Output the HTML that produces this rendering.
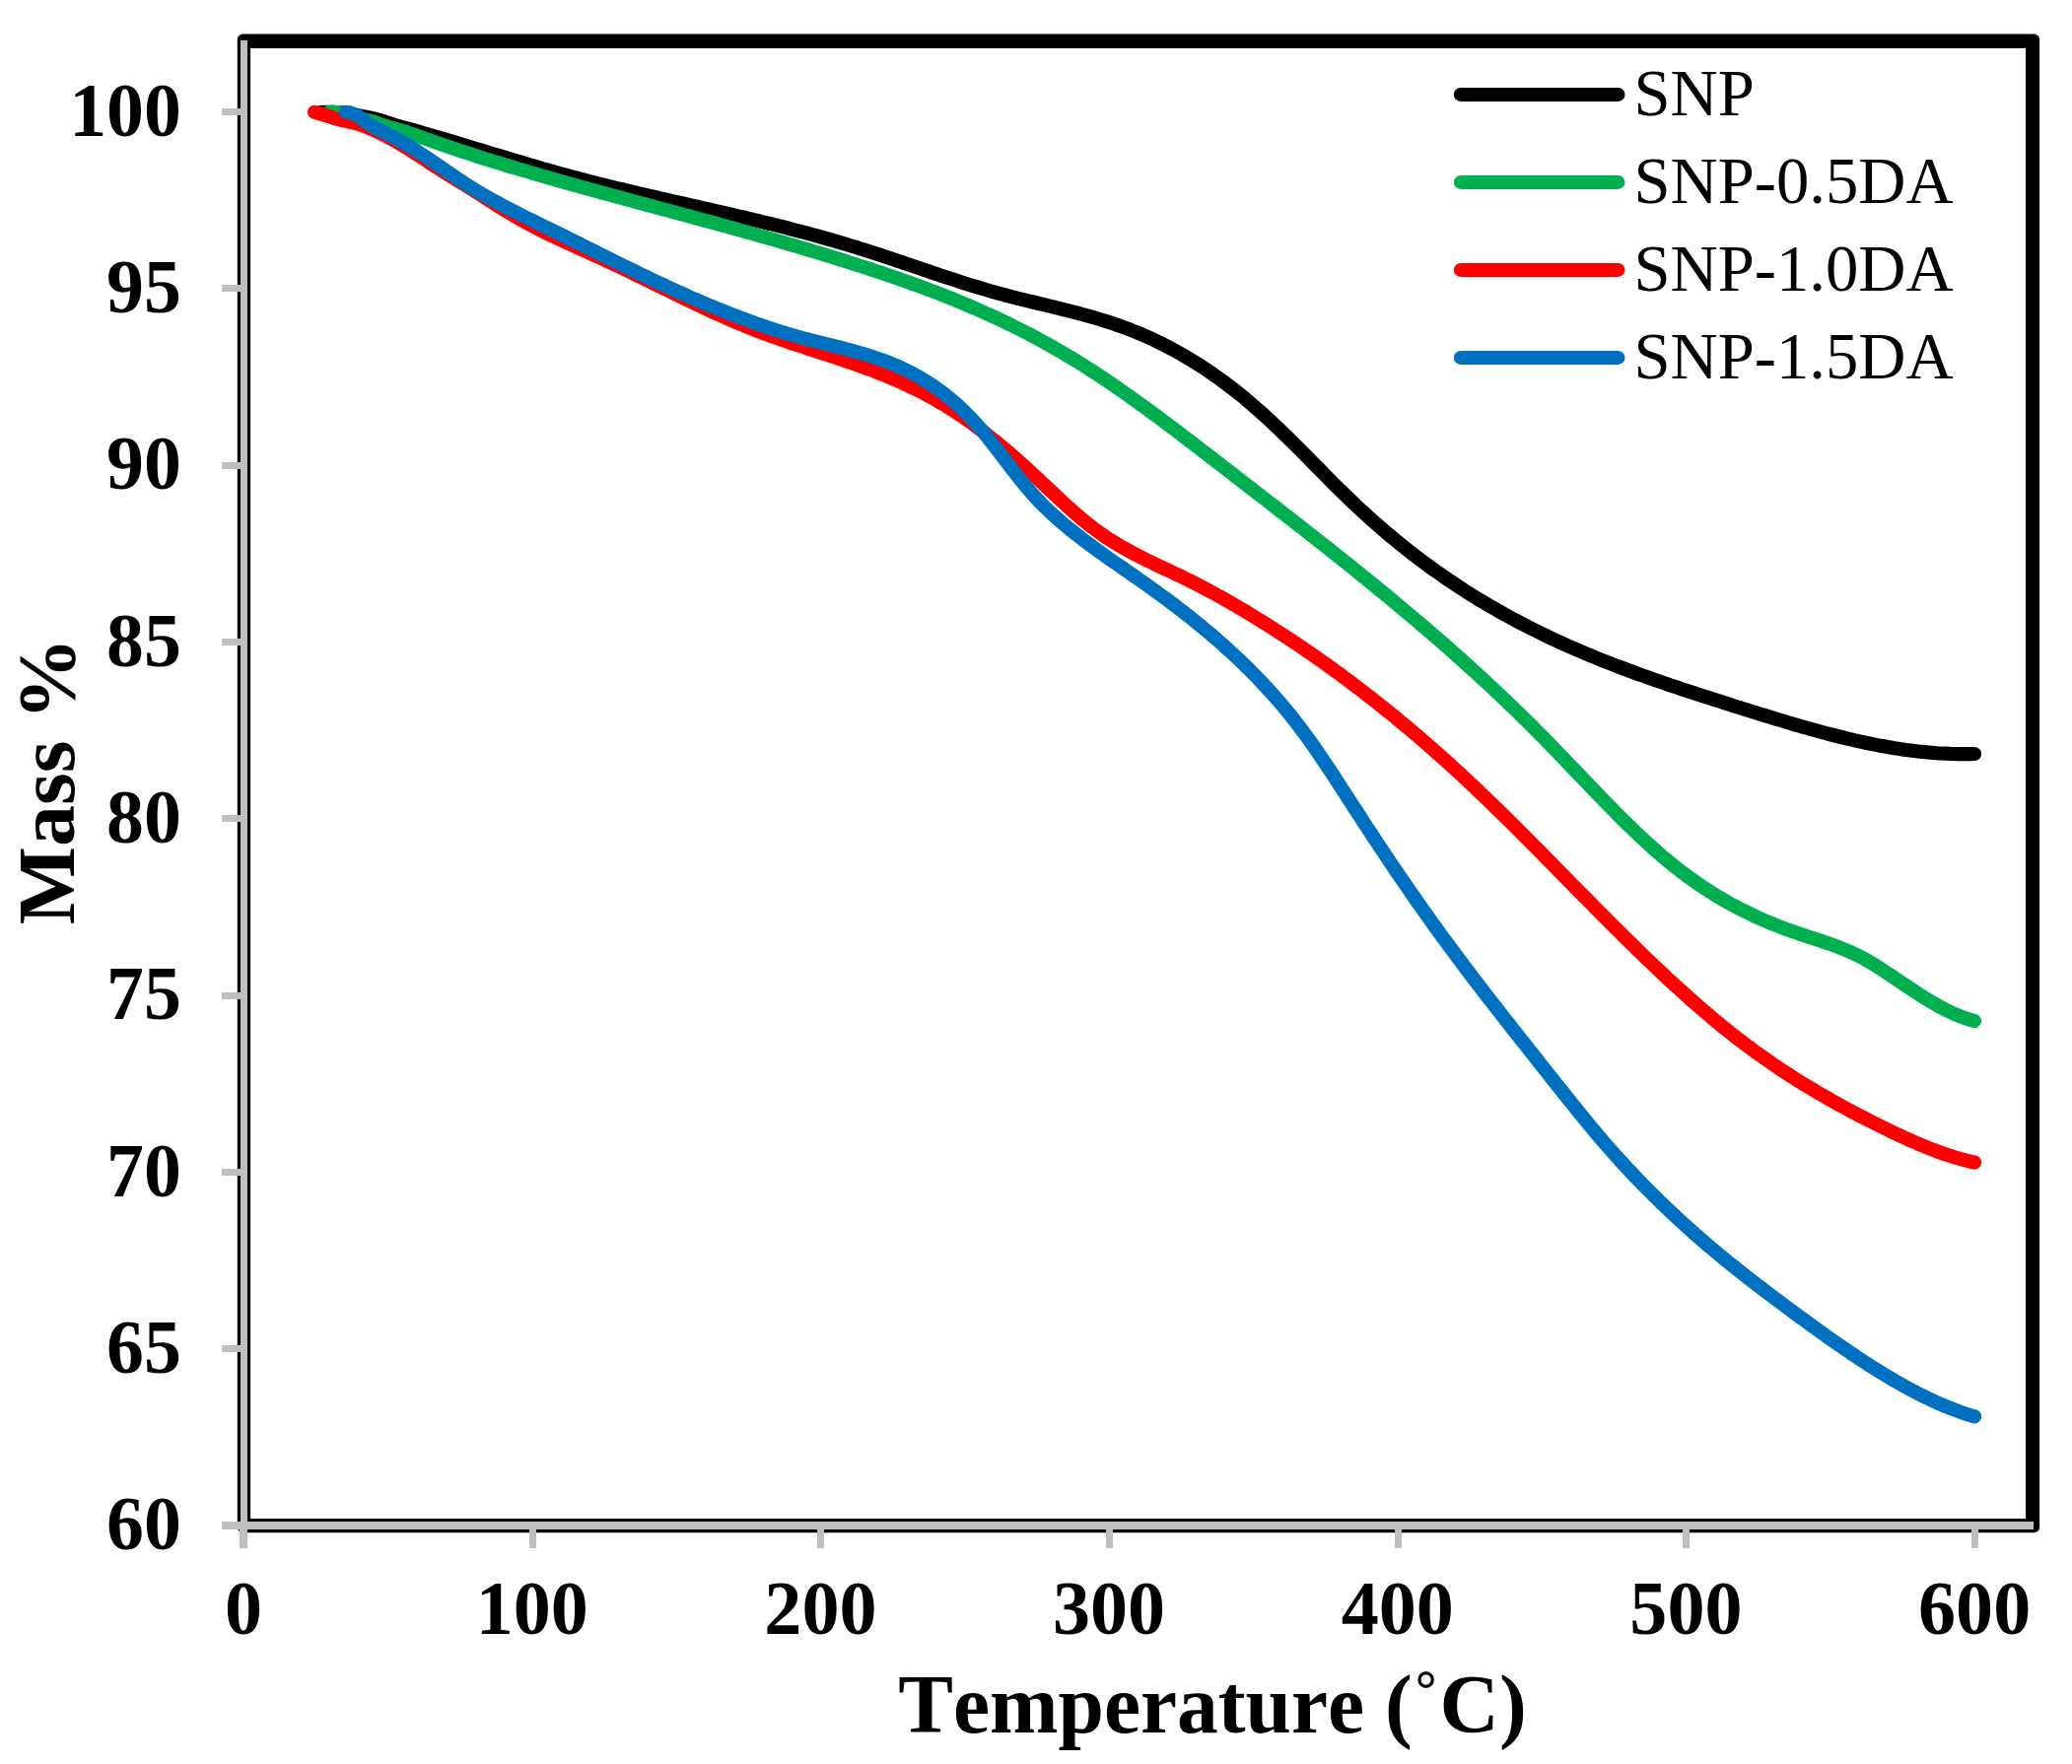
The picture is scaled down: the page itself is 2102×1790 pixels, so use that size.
<!DOCTYPE html>
<html><head><meta charset="utf-8"><title>TGA</title>
<style>
html,body{margin:0;padding:0;background:#fff;width:2102px;height:1790px;overflow:hidden;}
svg{display:block;}
text{font-family:"Liberation Serif","Times New Roman",serif;fill:#000;font-kerning:none;}
.tk{font-size:75px;font-weight:bold;}
.ti{font-size:83.33px;font-weight:bold;}
.lg{font-size:66.67px;}
</style></head><body>
<svg width="2102" height="1790" viewBox="0 0 2102 1790">
<rect x="0" y="0" width="2102" height="1790" fill="#fff"/>

<path fill="#000" fill-rule="evenodd" d="M246.3,34.6 H2063.6 A5.5,5.5 0 0 1 2069.1,40.1 V1549.7 A5.5,5.5 0 0 1 2063.6,1555.2 H246.3 A5.5,5.5 0 0 1 240.8,1549.7 V40.1 A5.5,5.5 0 0 1 246.3,34.6 Z M254.1,48.9 V1541.0 H2055.0 V48.9 Z"/>
<g stroke="#BFBFBF" stroke-width="7.2" fill="none" shape-rendering="crispEdges">
<line x1="247.5" y1="41" x2="247.5" y2="1570.7"/>
<line x1="225.2" y1="1548" x2="2063" y2="1548" stroke-width="7.9"/>
<line x1="225.2" y1="113.5" x2="247.5" y2="113.5" stroke-width="6.8"/>
<line x1="225.2" y1="292.8" x2="247.5" y2="292.8" stroke-width="6.8"/>
<line x1="225.2" y1="472.2" x2="247.5" y2="472.2" stroke-width="6.8"/>
<line x1="225.2" y1="651.5" x2="247.5" y2="651.5" stroke-width="6.8"/>
<line x1="225.2" y1="830.8" x2="247.5" y2="830.8" stroke-width="6.8"/>
<line x1="225.2" y1="1010.1" x2="247.5" y2="1010.1" stroke-width="6.8"/>
<line x1="225.2" y1="1189.5" x2="247.5" y2="1189.5" stroke-width="6.8"/>
<line x1="225.2" y1="1368.8" x2="247.5" y2="1368.8" stroke-width="6.8"/>
<line x1="540.1" y1="1548" x2="540.1" y2="1570.7" stroke-width="7"/>
<line x1="832.8" y1="1548" x2="832.8" y2="1570.7" stroke-width="7"/>
<line x1="1125.4" y1="1548" x2="1125.4" y2="1570.7" stroke-width="7"/>
<line x1="1418.1" y1="1548" x2="1418.1" y2="1570.7" stroke-width="7"/>
<line x1="1710.8" y1="1548" x2="1710.8" y2="1570.7" stroke-width="7"/>
<line x1="2003.5" y1="1548" x2="2003.5" y2="1570.7" stroke-width="7"/>
<rect x="243.2" y="1551" width="7.8" height="19.7" fill="#BFBFBF" stroke="none"/>
</g>
<path d="M326.0,113.8 L330.0,113.8 L334.0,113.8 L338.0,113.9 L342.0,114.1 L346.0,114.3 L350.0,114.6 L354.0,115.2 L358.0,116.1 L362.0,116.9 L366.0,117.7 L370.0,118.5 L374.0,119.3 L378.0,120.2 L382.0,121.2 L386.0,122.2 L390.0,123.4 L394.0,124.7 L398.0,126.1 L402.0,127.4 L406.0,128.6 L410.0,129.6 L414.0,130.7 L418.0,131.7 L422.0,132.8 L426.0,134.0 L430.0,135.2 L434.0,136.4 L438.0,137.5 L442.0,138.7 L446.0,139.8 L450.0,141.0 L454.0,142.2 L458.0,143.4 L462.0,144.6 L466.0,145.8 L470.0,147.0 L474.0,148.2 L478.0,149.5 L482.0,150.7 L486.0,151.9 L490.0,153.1 L494.0,154.3 L498.0,155.5 L502.0,156.7 L506.0,157.9 L510.0,159.1 L514.0,160.3 L518.0,161.5 L522.0,162.7 L526.0,163.9 L530.0,165.1 L534.0,166.3 L538.0,167.5 L542.0,168.6 L546.0,169.8 L550.0,171.0 L554.0,172.1 L558.0,173.2 L562.0,174.4 L566.0,175.5 L570.0,176.6 L574.0,177.7 L578.0,178.8 L582.0,179.9 L586.0,180.9 L590.0,182.0 L594.0,183.0 L598.0,184.1 L602.0,185.1 L606.0,186.1 L610.0,187.1 L614.0,188.1 L618.0,189.1 L622.0,190.1 L626.0,191.1 L630.0,192.0 L634.0,193.0 L638.0,193.9 L642.0,194.9 L646.0,195.8 L650.0,196.8 L654.0,197.7 L658.0,198.6 L662.0,199.5 L666.0,200.5 L670.0,201.4 L674.0,202.3 L678.0,203.2 L682.0,204.1 L686.0,205.0 L690.0,205.9 L694.0,206.8 L698.0,207.7 L702.0,208.6 L706.0,209.5 L710.0,210.4 L714.0,211.4 L718.0,212.3 L722.0,213.2 L726.0,214.1 L730.0,215.0 L734.0,215.9 L738.0,216.8 L742.0,217.7 L746.0,218.7 L750.0,219.6 L754.0,220.5 L758.0,221.5 L762.0,222.4 L766.0,223.4 L770.0,224.3 L774.0,225.3 L778.0,226.3 L782.0,227.2 L786.0,228.2 L790.0,229.2 L794.0,230.2 L798.0,231.2 L802.0,232.3 L806.0,233.3 L810.0,234.3 L814.0,235.4 L818.0,236.4 L822.0,237.5 L826.0,238.6 L830.0,239.7 L834.0,240.8 L838.0,241.9 L842.0,243.1 L846.0,244.2 L850.0,245.4 L854.0,246.6 L858.0,247.7 L862.0,249.0 L866.0,250.2 L870.0,251.4 L874.0,252.7 L878.0,253.9 L882.0,255.2 L886.0,256.5 L890.0,257.8 L894.0,259.1 L898.0,260.5 L902.0,261.8 L906.0,263.1 L910.0,264.5 L914.0,265.8 L918.0,267.2 L922.0,268.5 L926.0,269.9 L930.0,271.3 L934.0,272.6 L938.0,274.0 L942.0,275.3 L946.0,276.7 L950.0,278.0 L954.0,279.4 L958.0,280.7 L962.0,282.0 L966.0,283.3 L970.0,284.6 L974.0,285.9 L978.0,287.2 L982.0,288.5 L986.0,289.7 L990.0,290.9 L994.0,292.1 L998.0,293.3 L1002.0,294.5 L1006.0,295.7 L1010.0,296.8 L1014.0,297.9 L1018.0,299.0 L1022.0,300.0 L1026.0,301.1 L1030.0,302.1 L1034.0,303.1 L1038.0,304.1 L1042.0,305.1 L1046.0,306.0 L1050.0,307.0 L1054.0,308.0 L1058.0,308.9 L1062.0,309.9 L1066.0,310.9 L1070.0,311.8 L1074.0,312.8 L1078.0,313.8 L1082.0,314.8 L1086.0,315.8 L1090.0,316.8 L1094.0,317.9 L1098.0,319.0 L1102.0,320.1 L1106.0,321.2 L1110.0,322.3 L1114.0,323.5 L1118.0,324.7 L1122.0,326.0 L1126.0,327.3 L1130.0,328.6 L1134.0,330.0 L1138.0,331.4 L1142.0,332.9 L1146.0,334.4 L1150.0,336.0 L1154.0,337.6 L1158.0,339.3 L1162.0,341.0 L1166.0,342.8 L1170.0,344.7 L1174.0,346.6 L1178.0,348.5 L1182.0,350.5 L1186.0,352.6 L1190.0,354.7 L1194.0,356.9 L1198.0,359.2 L1202.0,361.5 L1206.0,363.9 L1210.0,366.3 L1214.0,368.8 L1218.0,371.3 L1222.0,373.9 L1226.0,376.6 L1230.0,379.4 L1234.0,382.2 L1238.0,385.0 L1242.0,388.0 L1246.0,391.0 L1250.0,394.0 L1254.0,397.1 L1258.0,400.3 L1262.0,403.6 L1266.0,406.9 L1270.0,410.3 L1274.0,413.8 L1278.0,417.3 L1282.0,420.9 L1286.0,424.6 L1290.0,428.3 L1294.0,432.1 L1298.0,435.9 L1302.0,439.8 L1306.0,443.7 L1310.0,447.6 L1314.0,451.6 L1318.0,455.6 L1322.0,459.6 L1326.0,463.6 L1330.0,467.7 L1334.0,471.7 L1338.0,475.8 L1342.0,479.8 L1346.0,483.9 L1350.0,487.9 L1354.0,491.9 L1358.0,495.8 L1362.0,499.8 L1366.0,503.7 L1370.0,507.5 L1374.0,511.4 L1378.0,515.1 L1382.0,518.9 L1386.0,522.5 L1390.0,526.1 L1394.0,529.7 L1398.0,533.2 L1402.0,536.7 L1406.0,540.1 L1410.0,543.5 L1414.0,546.8 L1418.0,550.1 L1422.0,553.3 L1426.0,556.5 L1430.0,559.7 L1434.0,562.8 L1438.0,565.9 L1442.0,568.9 L1446.0,571.8 L1450.0,574.8 L1454.0,577.7 L1458.0,580.5 L1462.0,583.3 L1466.0,586.1 L1470.0,588.8 L1474.0,591.5 L1478.0,594.2 L1482.0,596.8 L1486.0,599.4 L1490.0,601.9 L1494.0,604.4 L1498.0,606.9 L1502.0,609.3 L1506.0,611.7 L1510.0,614.1 L1514.0,616.4 L1518.0,618.7 L1522.0,621.0 L1526.0,623.2 L1530.0,625.4 L1534.0,627.6 L1538.0,629.8 L1542.0,631.9 L1546.0,633.9 L1550.0,636.0 L1554.0,638.0 L1558.0,640.0 L1562.0,642.0 L1566.0,643.9 L1570.0,645.9 L1574.0,647.8 L1578.0,649.6 L1582.0,651.5 L1586.0,653.3 L1590.0,655.1 L1594.0,656.9 L1598.0,658.6 L1602.0,660.3 L1606.0,662.0 L1610.0,663.7 L1614.0,665.4 L1618.0,667.0 L1622.0,668.7 L1626.0,670.3 L1630.0,671.9 L1634.0,673.4 L1638.0,675.0 L1642.0,676.5 L1646.0,678.0 L1650.0,679.5 L1654.0,681.0 L1658.0,682.5 L1662.0,684.0 L1666.0,685.4 L1670.0,686.8 L1674.0,688.2 L1678.0,689.7 L1682.0,691.0 L1686.0,692.4 L1690.0,693.8 L1694.0,695.2 L1698.0,696.5 L1702.0,697.8 L1706.0,699.2 L1710.0,700.5 L1714.0,701.8 L1718.0,703.1 L1722.0,704.4 L1726.0,705.7 L1730.0,707.0 L1734.0,708.3 L1738.0,709.6 L1742.0,710.8 L1746.0,712.1 L1750.0,713.4 L1754.0,714.6 L1758.0,715.9 L1762.0,717.2 L1766.0,718.4 L1770.0,719.7 L1774.0,720.9 L1778.0,722.2 L1782.0,723.4 L1786.0,724.7 L1790.0,725.9 L1794.0,727.1 L1798.0,728.4 L1802.0,729.6 L1806.0,730.8 L1810.0,732.0 L1814.0,733.2 L1818.0,734.4 L1822.0,735.6 L1826.0,736.7 L1830.0,737.9 L1834.0,739.0 L1838.0,740.1 L1842.0,741.2 L1846.0,742.3 L1850.0,743.4 L1854.0,744.5 L1858.0,745.5 L1862.0,746.5 L1866.0,747.5 L1870.0,748.5 L1874.0,749.5 L1878.0,750.4 L1882.0,751.4 L1886.0,752.3 L1890.0,753.1 L1894.0,754.0 L1898.0,754.8 L1902.0,755.6 L1906.0,756.4 L1910.0,757.1 L1914.0,757.8 L1918.0,758.5 L1922.0,759.2 L1926.0,759.8 L1930.0,760.4 L1934.0,761.0 L1938.0,761.5 L1942.0,762.0 L1946.0,762.5 L1950.0,762.9 L1954.0,763.3 L1958.0,763.7 L1962.0,764.0 L1966.0,764.3 L1970.0,764.5 L1974.0,764.7 L1978.0,764.9 L1982.0,765.0 L1986.0,765.1 L1990.0,765.2 L1994.0,765.2 L1998.0,765.1 L2002.0,765.0 L2003.0,765.0" fill="none" stroke="#000000" stroke-width="14.2" stroke-linecap="round" stroke-linejoin="round"/>
<path d="M334.0,113.8 L338.0,113.8 L342.0,114.1 L346.0,114.8 L350.0,115.8 L354.0,117.0 L358.0,118.1 L362.0,119.3 L366.0,120.4 L370.0,121.4 L374.0,122.4 L378.0,123.4 L382.0,124.6 L386.0,126.1 L390.0,127.6 L394.0,128.8 L398.0,129.9 L402.0,131.0 L406.0,132.1 L410.0,133.3 L414.0,134.6 L418.0,136.0 L422.0,137.3 L426.0,138.8 L430.0,140.2 L434.0,141.6 L438.0,143.1 L442.0,144.5 L446.0,145.9 L450.0,147.3 L454.0,148.6 L458.0,150.0 L462.0,151.3 L466.0,152.7 L470.0,154.0 L474.0,155.3 L478.0,156.6 L482.0,157.9 L486.0,159.2 L490.0,160.4 L494.0,161.7 L498.0,162.9 L502.0,164.2 L506.0,165.4 L510.0,166.6 L514.0,167.9 L518.0,169.1 L522.0,170.3 L526.0,171.5 L530.0,172.6 L534.0,173.8 L538.0,175.0 L542.0,176.2 L546.0,177.3 L550.0,178.5 L554.0,179.6 L558.0,180.8 L562.0,181.9 L566.0,183.1 L570.0,184.2 L574.0,185.3 L578.0,186.4 L582.0,187.6 L586.0,188.7 L590.0,189.8 L594.0,190.9 L598.0,192.0 L602.0,193.1 L606.0,194.2 L610.0,195.3 L614.0,196.4 L618.0,197.5 L622.0,198.6 L626.0,199.7 L630.0,200.7 L634.0,201.8 L638.0,202.9 L642.0,204.0 L646.0,205.1 L650.0,206.2 L654.0,207.2 L658.0,208.3 L662.0,209.4 L666.0,210.5 L670.0,211.6 L674.0,212.6 L678.0,213.7 L682.0,214.8 L686.0,215.9 L690.0,216.9 L694.0,218.0 L698.0,219.1 L702.0,220.2 L706.0,221.3 L710.0,222.4 L714.0,223.5 L718.0,224.5 L722.0,225.6 L726.0,226.7 L730.0,227.8 L734.0,228.9 L738.0,230.0 L742.0,231.1 L746.0,232.2 L750.0,233.4 L754.0,234.5 L758.0,235.6 L762.0,236.7 L766.0,237.8 L770.0,239.0 L774.0,240.1 L778.0,241.2 L782.0,242.4 L786.0,243.5 L790.0,244.7 L794.0,245.8 L798.0,247.0 L802.0,248.2 L806.0,249.3 L810.0,250.5 L814.0,251.7 L818.0,252.9 L822.0,254.1 L826.0,255.3 L830.0,256.5 L834.0,257.7 L838.0,258.9 L842.0,260.1 L846.0,261.4 L850.0,262.6 L854.0,263.9 L858.0,265.1 L862.0,266.4 L866.0,267.7 L870.0,269.0 L874.0,270.2 L878.0,271.5 L882.0,272.8 L886.0,274.2 L890.0,275.5 L894.0,276.8 L898.0,278.2 L902.0,279.5 L906.0,280.9 L910.0,282.3 L914.0,283.7 L918.0,285.1 L922.0,286.5 L926.0,288.0 L930.0,289.4 L934.0,290.9 L938.0,292.4 L942.0,293.9 L946.0,295.4 L950.0,296.9 L954.0,298.5 L958.0,300.0 L962.0,301.6 L966.0,303.2 L970.0,304.9 L974.0,306.5 L978.0,308.2 L982.0,309.9 L986.0,311.6 L990.0,313.3 L994.0,315.1 L998.0,316.9 L1002.0,318.7 L1006.0,320.5 L1010.0,322.3 L1014.0,324.2 L1018.0,326.1 L1022.0,328.0 L1026.0,330.0 L1030.0,332.0 L1034.0,334.0 L1038.0,336.0 L1042.0,338.0 L1046.0,340.1 L1050.0,342.2 L1054.0,344.4 L1058.0,346.6 L1062.0,348.8 L1066.0,351.0 L1070.0,353.3 L1074.0,355.6 L1078.0,357.9 L1082.0,360.3 L1086.0,362.7 L1090.0,365.1 L1094.0,367.6 L1098.0,370.1 L1102.0,372.6 L1106.0,375.2 L1110.0,377.8 L1114.0,380.4 L1118.0,383.0 L1122.0,385.7 L1126.0,388.4 L1130.0,391.1 L1134.0,393.9 L1138.0,396.7 L1142.0,399.5 L1146.0,402.3 L1150.0,405.2 L1154.0,408.0 L1158.0,410.9 L1162.0,413.8 L1166.0,416.7 L1170.0,419.7 L1174.0,422.6 L1178.0,425.6 L1182.0,428.6 L1186.0,431.6 L1190.0,434.6 L1194.0,437.6 L1198.0,440.7 L1202.0,443.7 L1206.0,446.8 L1210.0,449.8 L1214.0,452.9 L1218.0,456.0 L1222.0,459.1 L1226.0,462.2 L1230.0,465.2 L1234.0,468.3 L1238.0,471.4 L1242.0,474.5 L1246.0,477.6 L1250.0,480.7 L1254.0,483.8 L1258.0,486.9 L1262.0,490.0 L1266.0,493.1 L1270.0,496.2 L1274.0,499.3 L1278.0,502.4 L1282.0,505.4 L1286.0,508.5 L1290.0,511.6 L1294.0,514.7 L1298.0,517.9 L1302.0,521.0 L1306.0,524.1 L1310.0,527.2 L1314.0,530.3 L1318.0,533.4 L1322.0,536.5 L1326.0,539.7 L1330.0,542.8 L1334.0,546.0 L1338.0,549.1 L1342.0,552.3 L1346.0,555.4 L1350.0,558.6 L1354.0,561.8 L1358.0,564.9 L1362.0,568.1 L1366.0,571.3 L1370.0,574.5 L1374.0,577.7 L1378.0,581.0 L1382.0,584.2 L1386.0,587.4 L1390.0,590.7 L1394.0,593.9 L1398.0,597.2 L1402.0,600.5 L1406.0,603.8 L1410.0,607.1 L1414.0,610.4 L1418.0,613.7 L1422.0,617.1 L1426.0,620.4 L1430.0,623.8 L1434.0,627.2 L1438.0,630.6 L1442.0,634.0 L1446.0,637.4 L1450.0,640.8 L1454.0,644.3 L1458.0,647.7 L1462.0,651.2 L1466.0,654.7 L1470.0,658.2 L1474.0,661.8 L1478.0,665.3 L1482.0,668.9 L1486.0,672.5 L1490.0,676.1 L1494.0,679.7 L1498.0,683.3 L1502.0,687.0 L1506.0,690.7 L1510.0,694.4 L1514.0,698.1 L1518.0,701.9 L1522.0,705.6 L1526.0,709.4 L1530.0,713.3 L1534.0,717.1 L1538.0,721.0 L1542.0,724.9 L1546.0,728.8 L1550.0,732.8 L1554.0,736.7 L1558.0,740.7 L1562.0,744.8 L1566.0,748.8 L1570.0,752.9 L1574.0,757.0 L1578.0,761.1 L1582.0,765.3 L1586.0,769.4 L1590.0,773.6 L1594.0,777.8 L1598.0,782.0 L1602.0,786.2 L1606.0,790.4 L1610.0,794.5 L1614.0,798.7 L1618.0,802.9 L1622.0,807.0 L1626.0,811.1 L1630.0,815.2 L1634.0,819.3 L1638.0,823.4 L1642.0,827.4 L1646.0,831.4 L1650.0,835.3 L1654.0,839.2 L1658.0,843.1 L1662.0,846.9 L1666.0,850.7 L1670.0,854.4 L1674.0,858.0 L1678.0,861.6 L1682.0,865.2 L1686.0,868.6 L1690.0,872.0 L1694.0,875.3 L1698.0,878.6 L1702.0,881.7 L1706.0,884.8 L1710.0,887.8 L1714.0,890.7 L1718.0,893.6 L1722.0,896.4 L1726.0,899.1 L1730.0,901.8 L1734.0,904.3 L1738.0,906.9 L1742.0,909.3 L1746.0,911.7 L1750.0,914.0 L1754.0,916.3 L1758.0,918.5 L1762.0,920.6 L1766.0,922.7 L1770.0,924.7 L1774.0,926.7 L1778.0,928.6 L1782.0,930.5 L1786.0,932.3 L1790.0,934.0 L1794.0,935.7 L1798.0,937.4 L1802.0,939.0 L1806.0,940.6 L1810.0,942.1 L1814.0,943.6 L1818.0,945.0 L1822.0,946.4 L1826.0,947.8 L1830.0,949.1 L1834.0,950.4 L1838.0,951.7 L1842.0,953.0 L1846.0,954.3 L1850.0,955.7 L1854.0,957.0 L1858.0,958.4 L1862.0,959.9 L1866.0,961.4 L1870.0,963.0 L1874.0,964.7 L1878.0,966.4 L1882.0,968.3 L1886.0,970.2 L1890.0,972.3 L1894.0,974.5 L1898.0,976.8 L1902.0,979.3 L1906.0,981.8 L1910.0,984.4 L1914.0,987.1 L1918.0,989.7 L1922.0,992.4 L1926.0,995.1 L1930.0,997.8 L1934.0,1000.5 L1938.0,1003.2 L1942.0,1005.8 L1946.0,1008.4 L1950.0,1011.0 L1954.0,1013.5 L1958.0,1015.9 L1962.0,1018.2 L1966.0,1020.5 L1970.0,1022.7 L1974.0,1024.8 L1978.0,1026.7 L1982.0,1028.6 L1986.0,1030.3 L1990.0,1031.9 L1994.0,1033.3 L1998.0,1034.6 L2002.0,1035.7 L2003.0,1036.0" fill="none" stroke="#00B050" stroke-width="14.2" stroke-linecap="round" stroke-linejoin="round"/>
<path d="M319.1,113.8 L323.1,115.0 L327.1,116.1 L331.1,117.3 L335.1,118.6 L339.1,119.9 L343.1,121.0 L347.1,122.0 L351.1,122.9 L355.1,123.7 L359.1,124.6 L363.1,125.7 L367.1,127.1 L371.1,128.6 L375.1,130.2 L379.1,131.9 L383.1,133.7 L387.1,135.7 L391.1,137.8 L395.1,139.9 L399.1,142.1 L403.1,144.3 L407.1,146.7 L411.1,149.1 L415.1,151.6 L419.1,154.2 L423.1,156.7 L427.1,159.3 L431.1,161.9 L435.1,164.6 L439.1,167.2 L443.1,169.8 L447.1,172.4 L451.1,175.0 L455.1,177.5 L459.1,179.9 L463.1,182.4 L467.1,184.8 L471.1,187.2 L475.1,189.7 L479.1,192.2 L483.1,194.8 L487.1,197.4 L491.1,199.9 L495.1,202.5 L499.1,205.1 L503.1,207.7 L507.1,210.2 L511.1,212.7 L515.1,215.1 L519.1,217.5 L523.1,219.9 L527.1,222.2 L531.1,224.4 L535.1,226.6 L539.1,228.7 L543.1,230.8 L547.1,232.8 L551.1,234.8 L555.1,236.8 L559.1,238.8 L563.1,240.7 L567.1,242.6 L571.1,244.4 L575.1,246.3 L579.1,248.1 L583.1,249.9 L587.1,251.8 L591.1,253.6 L595.1,255.4 L599.1,257.2 L603.1,259.0 L607.1,260.8 L611.1,262.6 L615.1,264.5 L619.1,266.4 L623.1,268.2 L627.1,270.1 L631.1,272.0 L635.1,274.0 L639.1,275.9 L643.1,277.8 L647.1,279.8 L651.1,281.7 L655.1,283.7 L659.1,285.6 L663.1,287.6 L667.1,289.6 L671.1,291.5 L675.1,293.5 L679.1,295.5 L683.1,297.4 L687.1,299.4 L691.1,301.3 L695.1,303.3 L699.1,305.2 L703.1,307.1 L707.1,309.0 L711.1,310.9 L715.1,312.8 L719.1,314.6 L723.1,316.5 L727.1,318.3 L731.1,320.1 L735.1,321.9 L739.1,323.7 L743.1,325.4 L747.1,327.1 L751.1,328.8 L755.1,330.5 L759.1,332.1 L763.1,333.7 L767.1,335.3 L771.1,336.8 L775.1,338.3 L779.1,339.8 L783.1,341.2 L787.1,342.7 L791.1,344.1 L795.1,345.4 L799.1,346.8 L803.1,348.2 L807.1,349.5 L811.1,350.8 L815.1,352.1 L819.1,353.5 L823.1,354.8 L827.1,356.1 L831.1,357.4 L835.1,358.7 L839.1,360.0 L843.1,361.3 L847.1,362.6 L851.1,364.0 L855.1,365.3 L859.1,366.7 L863.1,368.0 L867.1,369.4 L871.1,370.8 L875.1,372.3 L879.1,373.7 L883.1,375.2 L887.1,376.7 L891.1,378.3 L895.1,379.9 L899.1,381.5 L903.1,383.2 L907.1,384.8 L911.1,386.6 L915.1,388.4 L919.1,390.2 L923.1,392.1 L927.1,394.0 L931.1,396.0 L935.1,398.0 L939.1,400.1 L943.1,402.3 L947.1,404.5 L951.1,406.8 L955.1,409.1 L959.1,411.5 L963.1,414.0 L967.1,416.5 L971.1,419.2 L975.1,421.8 L979.1,424.6 L983.1,427.4 L987.1,430.3 L991.1,433.3 L995.1,436.3 L999.1,439.3 L1003.1,442.5 L1007.1,445.7 L1011.1,448.9 L1015.1,452.2 L1019.1,455.6 L1023.1,459.0 L1027.1,462.4 L1031.1,465.9 L1035.1,469.5 L1039.1,473.1 L1043.1,476.7 L1047.1,480.4 L1051.1,484.2 L1055.1,487.9 L1059.1,491.7 L1063.1,495.5 L1067.1,499.2 L1071.1,503.0 L1075.1,506.7 L1079.1,510.4 L1083.1,514.1 L1087.1,517.6 L1091.1,521.2 L1095.1,524.6 L1099.1,528.0 L1103.1,531.2 L1107.1,534.4 L1111.1,537.4 L1115.1,540.3 L1119.1,543.1 L1123.1,545.8 L1127.1,548.4 L1131.1,550.8 L1135.1,553.3 L1139.1,555.6 L1143.1,557.8 L1147.1,560.0 L1151.1,562.2 L1155.1,564.2 L1159.1,566.3 L1163.1,568.3 L1167.1,570.2 L1171.1,572.2 L1175.1,574.1 L1179.1,576.0 L1183.1,577.8 L1187.1,579.7 L1191.1,581.6 L1195.1,583.5 L1199.1,585.4 L1203.1,587.4 L1207.1,589.3 L1211.1,591.4 L1215.1,593.4 L1219.1,595.5 L1223.1,597.6 L1227.1,599.7 L1231.1,601.9 L1235.1,604.1 L1239.1,606.3 L1243.1,608.5 L1247.1,610.8 L1251.1,613.1 L1255.1,615.5 L1259.1,617.8 L1263.1,620.2 L1267.1,622.6 L1271.1,625.0 L1275.1,627.5 L1279.1,630.0 L1283.1,632.5 L1287.1,635.0 L1291.1,637.5 L1295.1,640.1 L1299.1,642.7 L1303.1,645.3 L1307.1,647.9 L1311.1,650.5 L1315.1,653.2 L1319.1,655.9 L1323.1,658.6 L1327.1,661.4 L1331.1,664.1 L1335.1,666.9 L1339.1,669.7 L1343.1,672.6 L1347.1,675.4 L1351.1,678.3 L1355.1,681.2 L1359.1,684.1 L1363.1,687.1 L1367.1,690.0 L1371.1,693.0 L1375.1,696.1 L1379.1,699.1 L1383.1,702.2 L1387.1,705.3 L1391.1,708.4 L1395.1,711.5 L1399.1,714.7 L1403.1,717.9 L1407.1,721.1 L1411.1,724.3 L1415.1,727.6 L1419.1,730.9 L1423.1,734.2 L1427.1,737.5 L1431.1,740.9 L1435.1,744.3 L1439.1,747.7 L1443.1,751.1 L1447.1,754.6 L1451.1,758.1 L1455.1,761.6 L1459.1,765.1 L1463.1,768.7 L1467.1,772.3 L1471.1,775.9 L1475.1,779.6 L1479.1,783.2 L1483.1,786.9 L1487.1,790.6 L1491.1,794.4 L1495.1,798.2 L1499.1,802.0 L1503.1,805.8 L1507.1,809.6 L1511.1,813.5 L1515.1,817.4 L1519.1,821.3 L1523.1,825.2 L1527.1,829.1 L1531.1,833.1 L1535.1,837.0 L1539.1,841.0 L1543.1,845.0 L1547.1,849.0 L1551.1,853.0 L1555.1,857.1 L1559.1,861.1 L1563.1,865.1 L1567.1,869.2 L1571.1,873.2 L1575.1,877.3 L1579.1,881.4 L1583.1,885.4 L1587.1,889.5 L1591.1,893.5 L1595.1,897.6 L1599.1,901.7 L1603.1,905.7 L1607.1,909.8 L1611.1,913.8 L1615.1,917.9 L1619.1,921.9 L1623.1,925.9 L1627.1,930.0 L1631.1,934.0 L1635.1,938.0 L1639.1,942.0 L1643.1,945.9 L1647.1,949.9 L1651.1,953.8 L1655.1,957.8 L1659.1,961.7 L1663.1,965.6 L1667.1,969.5 L1671.1,973.3 L1675.1,977.1 L1679.1,981.0 L1683.1,984.7 L1687.1,988.5 L1691.1,992.3 L1695.1,996.0 L1699.1,999.7 L1703.1,1003.3 L1707.1,1006.9 L1711.1,1010.5 L1715.1,1014.1 L1719.1,1017.6 L1723.1,1021.1 L1727.1,1024.6 L1731.1,1028.0 L1735.1,1031.4 L1739.1,1034.8 L1743.1,1038.1 L1747.1,1041.4 L1751.1,1044.6 L1755.1,1047.8 L1759.1,1051.0 L1763.1,1054.1 L1767.1,1057.1 L1771.1,1060.2 L1775.1,1063.1 L1779.1,1066.1 L1783.1,1069.0 L1787.1,1071.8 L1791.1,1074.7 L1795.1,1077.4 L1799.1,1080.2 L1803.1,1082.9 L1807.1,1085.6 L1811.1,1088.2 L1815.1,1090.8 L1819.1,1093.4 L1823.1,1095.9 L1827.1,1098.4 L1831.1,1100.8 L1835.1,1103.3 L1839.1,1105.7 L1843.1,1108.1 L1847.1,1110.4 L1851.1,1112.7 L1855.1,1115.0 L1859.1,1117.3 L1863.1,1119.5 L1867.1,1121.7 L1871.1,1123.9 L1875.1,1126.0 L1879.1,1128.2 L1883.1,1130.3 L1887.1,1132.4 L1891.1,1134.4 L1895.1,1136.5 L1899.1,1138.5 L1903.1,1140.5 L1907.1,1142.5 L1911.1,1144.5 L1915.1,1146.4 L1919.1,1148.4 L1923.1,1150.3 L1927.1,1152.2 L1931.1,1154.0 L1935.1,1155.9 L1939.1,1157.6 L1943.1,1159.4 L1947.1,1161.1 L1951.1,1162.8 L1955.1,1164.4 L1959.1,1166.0 L1963.1,1167.5 L1967.1,1169.0 L1971.1,1170.5 L1975.1,1171.8 L1979.1,1173.1 L1983.1,1174.4 L1987.1,1175.5 L1991.1,1176.7 L1995.1,1177.7 L1999.1,1178.7 L2003.0,1179.5" fill="none" stroke="#FF0000" stroke-width="14.2" stroke-linecap="round" stroke-linejoin="round"/>
<path d="M351.1,113.8 L355.1,114.3 L359.1,115.8 L363.1,117.7 L367.1,120.6 L371.1,124.0 L375.1,126.4 L379.1,128.8 L383.1,131.4 L387.1,132.8 L391.1,135.4 L395.1,137.4 L399.1,139.3 L403.1,141.5 L407.1,143.8 L411.1,146.2 L415.1,148.6 L419.1,151.0 L423.1,153.5 L427.1,156.1 L431.1,158.7 L435.1,161.4 L439.1,164.1 L443.1,166.8 L447.1,169.6 L451.1,172.4 L455.1,175.1 L459.1,177.9 L463.1,180.6 L467.1,183.2 L471.1,185.9 L475.1,188.4 L479.1,190.9 L483.1,193.4 L487.1,195.8 L491.1,198.1 L495.1,200.4 L499.1,202.6 L503.1,204.9 L507.1,207.0 L511.1,209.2 L515.1,211.3 L519.1,213.4 L523.1,215.4 L527.1,217.5 L531.1,219.5 L535.1,221.5 L539.1,223.4 L543.1,225.4 L547.1,227.4 L551.1,229.3 L555.1,231.3 L559.1,233.2 L563.1,235.2 L567.1,237.1 L571.1,239.1 L575.1,241.1 L579.1,243.1 L583.1,245.1 L587.1,247.0 L591.1,249.0 L595.1,251.0 L599.1,253.0 L603.1,255.0 L607.1,257.0 L611.1,259.0 L615.1,261.0 L619.1,263.0 L623.1,265.0 L627.1,267.0 L631.1,269.0 L635.1,271.0 L639.1,272.9 L643.1,274.9 L647.1,276.9 L651.1,278.8 L655.1,280.7 L659.1,282.7 L663.1,284.6 L667.1,286.5 L671.1,288.3 L675.1,290.2 L679.1,292.1 L683.1,293.9 L687.1,295.7 L691.1,297.5 L695.1,299.3 L699.1,301.1 L703.1,302.9 L707.1,304.6 L711.1,306.3 L715.1,308.0 L719.1,309.7 L723.1,311.4 L727.1,313.0 L731.1,314.6 L735.1,316.2 L739.1,317.8 L743.1,319.4 L747.1,320.9 L751.1,322.4 L755.1,323.9 L759.1,325.4 L763.1,326.8 L767.1,328.3 L771.1,329.7 L775.1,331.0 L779.1,332.4 L783.1,333.7 L787.1,335.0 L791.1,336.2 L795.1,337.5 L799.1,338.7 L803.1,339.9 L807.1,341.0 L811.1,342.2 L815.1,343.3 L819.1,344.3 L823.1,345.4 L827.1,346.4 L831.1,347.4 L835.1,348.4 L839.1,349.4 L843.1,350.4 L847.1,351.4 L851.1,352.4 L855.1,353.4 L859.1,354.5 L863.1,355.5 L867.1,356.6 L871.1,357.8 L875.1,358.9 L879.1,360.1 L883.1,361.4 L887.1,362.7 L891.1,364.1 L895.1,365.5 L899.1,367.0 L903.1,368.5 L907.1,370.2 L911.1,371.9 L915.1,373.7 L919.1,375.6 L923.1,377.6 L927.1,379.7 L931.1,381.9 L935.1,384.2 L939.1,386.7 L943.1,389.2 L947.1,391.9 L951.1,394.7 L955.1,397.6 L959.1,400.7 L963.1,404.0 L967.1,407.3 L971.1,410.9 L975.1,414.5 L979.1,418.4 L983.1,422.4 L987.1,426.6 L991.1,431.0 L995.1,435.5 L999.1,440.2 L1003.1,445.2 L1007.1,450.2 L1011.1,455.3 L1015.1,460.6 L1019.1,465.8 L1023.1,471.1 L1027.1,476.3 L1031.1,481.5 L1035.1,486.5 L1039.1,491.5 L1043.1,496.3 L1047.1,500.9 L1051.1,505.3 L1055.1,509.5 L1059.1,513.6 L1063.1,517.5 L1067.1,521.3 L1071.1,524.9 L1075.1,528.4 L1079.1,531.8 L1083.1,535.2 L1087.1,538.4 L1091.1,541.6 L1095.1,544.7 L1099.1,547.8 L1103.1,550.8 L1107.1,553.8 L1111.1,556.8 L1115.1,559.7 L1119.1,562.5 L1123.1,565.4 L1127.1,568.2 L1131.1,571.0 L1135.1,573.8 L1139.1,576.5 L1143.1,579.3 L1147.1,582.1 L1151.1,584.9 L1155.1,587.7 L1159.1,590.5 L1163.1,593.3 L1167.1,596.2 L1171.1,599.0 L1175.1,601.9 L1179.1,604.9 L1183.1,607.8 L1187.1,610.8 L1191.1,613.8 L1195.1,616.9 L1199.1,619.9 L1203.1,623.1 L1207.1,626.2 L1211.1,629.4 L1215.1,632.7 L1219.1,635.9 L1223.1,639.3 L1227.1,642.6 L1231.1,646.0 L1235.1,649.5 L1239.1,653.0 L1243.1,656.6 L1247.1,660.2 L1251.1,663.9 L1255.1,667.6 L1259.1,671.4 L1263.1,675.3 L1267.1,679.2 L1271.1,683.3 L1275.1,687.3 L1279.1,691.5 L1283.1,695.8 L1287.1,700.1 L1291.1,704.5 L1295.1,709.1 L1299.1,713.7 L1303.1,718.5 L1307.1,723.3 L1311.1,728.3 L1315.1,733.4 L1319.1,738.6 L1323.1,744.0 L1327.1,749.4 L1331.1,755.0 L1335.1,760.8 L1339.1,766.6 L1343.1,772.5 L1347.1,778.5 L1351.1,784.5 L1355.1,790.6 L1359.1,796.8 L1363.1,803.0 L1367.1,809.2 L1371.1,815.4 L1375.1,821.5 L1379.1,827.7 L1383.1,833.8 L1387.1,840.0 L1391.1,846.0 L1395.1,852.1 L1399.1,858.1 L1403.1,864.1 L1407.1,870.1 L1411.1,876.1 L1415.1,882.0 L1419.1,887.9 L1423.1,893.7 L1427.1,899.5 L1431.1,905.3 L1435.1,911.1 L1439.1,916.8 L1443.1,922.5 L1447.1,928.1 L1451.1,933.7 L1455.1,939.3 L1459.1,944.9 L1463.1,950.4 L1467.1,955.8 L1471.1,961.2 L1475.1,966.6 L1479.1,972.0 L1483.1,977.3 L1487.1,982.6 L1491.1,987.9 L1495.1,993.2 L1499.1,998.4 L1503.1,1003.6 L1507.1,1008.8 L1511.1,1014.0 L1515.1,1019.1 L1519.1,1024.2 L1523.1,1029.3 L1527.1,1034.5 L1531.1,1039.5 L1535.1,1044.6 L1539.1,1049.7 L1543.1,1054.8 L1547.1,1059.8 L1551.1,1064.9 L1555.1,1069.9 L1559.1,1075.0 L1563.1,1080.1 L1567.1,1085.1 L1571.1,1090.2 L1575.1,1095.2 L1579.1,1100.3 L1583.1,1105.3 L1587.1,1110.3 L1591.1,1115.4 L1595.1,1120.3 L1599.1,1125.3 L1603.1,1130.2 L1607.1,1135.1 L1611.1,1140.0 L1615.1,1144.8 L1619.1,1149.6 L1623.1,1154.3 L1627.1,1159.0 L1631.1,1163.6 L1635.1,1168.1 L1639.1,1172.6 L1643.1,1177.1 L1647.1,1181.4 L1651.1,1185.8 L1655.1,1190.0 L1659.1,1194.3 L1663.1,1198.4 L1667.1,1202.5 L1671.1,1206.6 L1675.1,1210.6 L1679.1,1214.6 L1683.1,1218.5 L1687.1,1222.4 L1691.1,1226.2 L1695.1,1230.0 L1699.1,1233.7 L1703.1,1237.4 L1707.1,1241.1 L1711.1,1244.7 L1715.1,1248.3 L1719.1,1251.8 L1723.1,1255.3 L1727.1,1258.8 L1731.1,1262.3 L1735.1,1265.7 L1739.1,1269.0 L1743.1,1272.4 L1747.1,1275.7 L1751.1,1279.0 L1755.1,1282.2 L1759.1,1285.4 L1763.1,1288.6 L1767.1,1291.8 L1771.1,1295.0 L1775.1,1298.1 L1779.1,1301.2 L1783.1,1304.3 L1787.1,1307.3 L1791.1,1310.4 L1795.1,1313.4 L1799.1,1316.4 L1803.1,1319.4 L1807.1,1322.4 L1811.1,1325.4 L1815.1,1328.4 L1819.1,1331.3 L1823.1,1334.2 L1827.1,1337.2 L1831.1,1340.1 L1835.1,1343.0 L1839.1,1345.9 L1843.1,1348.8 L1847.1,1351.7 L1851.1,1354.5 L1855.1,1357.4 L1859.1,1360.2 L1863.1,1363.0 L1867.1,1365.8 L1871.1,1368.5 L1875.1,1371.3 L1879.1,1374.0 L1883.1,1376.6 L1887.1,1379.3 L1891.1,1381.9 L1895.1,1384.5 L1899.1,1387.1 L1903.1,1389.6 L1907.1,1392.1 L1911.1,1394.5 L1915.1,1396.9 L1919.1,1399.3 L1923.1,1401.6 L1927.1,1403.9 L1931.1,1406.2 L1935.1,1408.4 L1939.1,1410.5 L1943.1,1412.6 L1947.1,1414.7 L1951.1,1416.7 L1955.1,1418.6 L1959.1,1420.5 L1963.1,1422.4 L1967.1,1424.2 L1971.1,1425.9 L1975.1,1427.6 L1979.1,1429.2 L1983.1,1430.7 L1987.1,1432.2 L1991.1,1433.6 L1995.1,1435.0 L1999.1,1436.2 L2003.0,1437.4" fill="none" stroke="#0070C0" stroke-width="14.2" stroke-linecap="round" stroke-linejoin="round"/>
<line x1="1481.8" y1="95.9" x2="1641.5" y2="95.9" stroke="#000000" stroke-width="14" stroke-linecap="round"/>
<text class="lg" x="1657.5" y="117.0">SNP</text>
<line x1="1481.8" y1="184.9" x2="1641.5" y2="184.9" stroke="#00B050" stroke-width="14" stroke-linecap="round"/>
<text class="lg" x="1657.5" y="206.1">SNP-0.5DA</text>
<line x1="1481.8" y1="273.9" x2="1641.5" y2="273.9" stroke="#FF0000" stroke-width="14" stroke-linecap="round"/>
<text class="lg" x="1657.5" y="295.2">SNP-1.0DA</text>
<line x1="1481.8" y1="362.9" x2="1641.5" y2="362.9" stroke="#0070C0" stroke-width="14" stroke-linecap="round"/>
<text class="lg" x="1657.5" y="384.3">SNP-1.5DA</text>
<text class="tk" transform="translate(183.8,137.5) scale(1.01,1.04)" text-anchor="end">100</text>
<text class="tk" transform="translate(183.8,316.8) scale(1.01,1.04)" text-anchor="end">95</text>
<text class="tk" transform="translate(183.8,496.2) scale(1.01,1.04)" text-anchor="end">90</text>
<text class="tk" transform="translate(183.8,675.5) scale(1.01,1.04)" text-anchor="end">85</text>
<text class="tk" transform="translate(183.8,854.8) scale(1.01,1.04)" text-anchor="end">80</text>
<text class="tk" transform="translate(183.8,1034.1) scale(1.01,1.04)" text-anchor="end">75</text>
<text class="tk" transform="translate(183.8,1213.5) scale(1.01,1.04)" text-anchor="end">70</text>
<text class="tk" transform="translate(183.8,1392.8) scale(1.01,1.04)" text-anchor="end">65</text>
<text class="tk" transform="translate(183.8,1572.1) scale(1.01,1.04)" text-anchor="end">60</text>
<text class="tk" transform="translate(247.0,1658.4) scale(1.015,1.04)" text-anchor="middle">0</text>
<text class="tk" transform="translate(539.7,1658.4) scale(1.015,1.04)" text-anchor="middle">100</text>
<text class="tk" transform="translate(832.4,1658.4) scale(1.015,1.04)" text-anchor="middle">200</text>
<text class="tk" transform="translate(1125.0,1658.4) scale(1.015,1.04)" text-anchor="middle">300</text>
<text class="tk" transform="translate(1417.7,1658.4) scale(1.015,1.04)" text-anchor="middle">400</text>
<text class="tk" transform="translate(1710.4,1658.4) scale(1.015,1.04)" text-anchor="middle">500</text>
<text class="tk" transform="translate(2003.1,1658.4) scale(1.015,1.04)" text-anchor="middle">600</text>
<text class="ti" transform="translate(911.2,1757.8) scale(1.002,1.015)">Temperature (<tspan font-weight="normal">˚</tspan>C)</text>
<text class="ti" transform="translate(75.1,938.3) rotate(-90) scale(1.008,1.0)">Mass %</text>
</svg></body></html>
